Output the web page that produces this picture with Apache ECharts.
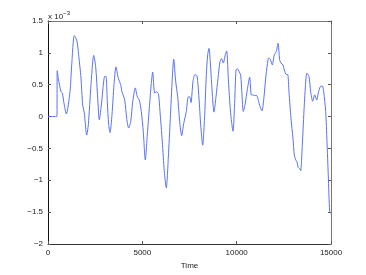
<!DOCTYPE html>
<html>
<head>
<meta charset="utf-8">
<script src="https://cdn.jsdelivr.net/npm/echarts@6/dist/echarts.min.js"></script>
<style>html,body{margin:0;padding:0;background:#fff}#c{width:366px;height:275px}</style>
</head>
<body>
<div id="c"></div>
<script>
// Time samples and signal values (in units of 1e-3)
const timeValues = [0,470,490,546,689,758,864,970,1166,1256,1394,1521,1606,1749,1839,1924,2051,2136,2279,2422,2528,2634,2719,2846,2915,3005,3074,3143,3217,3286,3392,3498,3604,3726,3853,3922,4065,4171,4277,4383,4489,4627,4733,4839,4945,5051,5157,5263,5369,5475,5549,5655,5761,5857,5936,6058,6164,6270,6376,6482,6588,6662,6768,6874,6980,7086,7192,7330,7436,7510,7579,7685,7791,7897,8003,8093,8199,8305,8390,8464,8533,8602,8676,8798,8904,9010,9116,9206,9291,9397,9471,9556,9646,9715,9805,9895,9964,10033,10139,10213,10282,10351,10457,10563,10690,10775,10849,10955,11061,11167,11273,11342,11448,11554,11660,11687,11782,11888,11994,12100,12190,12280,12349,12455,12524,12630,12704,12773,12879,12985,13054,13128,13197,13266,13340,13393,13478,13584,13674,13727,13833,13923,14029,14135,14241,14326,14432,14538,14612,14718,14787,14856,14930,15000];
const signalValues = [0,0,0.72,0.60,0.39,0.37,0.18,0.04,0.39,0.81,1.27,1.20,1.02,0.60,0.18,0.06,-0.29,-0.13,0.50,0.96,0.78,0.29,-0.05,0.23,0.45,0.63,0.63,0.23,-0.13,-0.25,0.03,0.50,0.78,0.60,0.50,0.39,0.26,-0.03,-0.18,-0.08,0.23,0.45,0.31,0.26,0.08,-0.24,-0.68,-0.29,0.13,0.52,0.70,0.37,0.39,0.35,0.08,-0.39,-0.86,-1.12,-0.65,-0.03,0.60,0.90,0.55,0.31,-0.08,-0.30,-0.11,0.08,0.31,0.31,0.22,0.55,0.66,0.64,0.29,-0.13,-0.45,0.03,0.65,0.97,1.07,0.86,0.50,0.07,0.31,0.60,0.86,0.91,0.84,0.97,1.03,0.60,0.18,-0.05,-0.23,0.23,0.73,0.75,0.70,0.65,0.34,0.08,0.21,0.42,0.62,0.34,0.34,0.33,0.33,0.23,0.13,0.09,0.31,0.65,0.89,0.92,0.90,0.81,0.97,1.02,1.15,0.89,0.84,0.81,0.73,0.66,0.66,0.39,-0.03,-0.34,-0.60,-0.68,-0.71,-0.80,-0.82,-0.85,-0.45,0.18,0.60,0.68,0.63,0.39,0.24,0.34,0.26,0.37,0.47,0.48,0.39,0.08,-0.39,-0.92,-1.49,-1.52];
const xTickLabels = ['0','5000','10000','15000'];
const yTickLabels = ['\u22122','\u22121.5','\u22121','\u22120.5','0','0.5','1','1.5'];
const xLabel = 'Time';

const data = timeValues.map((t, i) => [t, signalValues[i]]);
const chart = echarts.init(document.getElementById('c'), null, {renderer: 'canvas'});
const font = 'Liberation Sans, Arial, sans-serif';
const tickStyle = {inside: true, length: 3, lineStyle: {color: '#555', width: 1}};
chart.setOption({
  animation: false,
  backgroundColor: '#fff',
  grid: {left: 48, right: 35, top: 21, bottom: 31, containLabel: false},
  xAxis: [{
    type: 'value', min: 0, max: 15000, interval: 5000, position: 'bottom',
    name: xLabel, nameLocation: 'middle', nameGap: 16,
    nameTextStyle: {fontFamily: font, fontSize: 8, color: '#222'},
    axisLine: {show: true, onZero: false, lineStyle: {color: '#333', width: 1}},
    axisTick: tickStyle, splitLine: {show: false},
    axisLabel: {fontFamily: font, fontSize: 8, color: '#222', margin: 5,
      formatter: (v) => xTickLabels[Math.round(v / 5000)]}
  }, {
    type: 'value', min: 0, max: 15000, interval: 5000, position: 'top',
    axisLine: {show: true, onZero: false, lineStyle: {color: '#777', width: 1}},
    axisTick: tickStyle, axisLabel: {show: false}, splitLine: {show: false}
  }],
  yAxis: [{
    type: 'value', min: -2, max: 1.5, interval: 0.5, position: 'left',
    axisLine: {show: true, onZero: false, lineStyle: {color: '#111', width: 1}},
    axisTick: tickStyle, splitLine: {show: false},
    axisLabel: {fontFamily: font, fontSize: 8, color: '#222', margin: 5,
      formatter: (v) => yTickLabels[Math.round((v + 2) / 0.5)]}
  }, {
    type: 'value', min: -2, max: 1.5, interval: 0.5, position: 'right',
    axisLine: {show: true, onZero: false, lineStyle: {color: '#777', width: 1}},
    axisTick: tickStyle, axisLabel: {show: false}, splitLine: {show: false}
  }],
  graphic: [{
    type: 'text', left: 48, top: 10,
    style: {
      text: '{a|x 10}{b|\u22123}',
      rich: {
        a: {fontFamily: font, fontSize: 8, fill: '#222', verticalAlign: 'bottom'},
        b: {fontFamily: font, fontSize: 6, fill: '#222', verticalAlign: 'top', padding: [0, 0, 5, 0]}
      }
    }
  }],
  series: [{
    type: 'line', data: data, showSymbol: false, smooth: 0.25,
    xAxisIndex: 0, yAxisIndex: 0,
    lineStyle: {color: '#5a72f5', width: 1}
  }]
});
</script>
</body>
</html>
